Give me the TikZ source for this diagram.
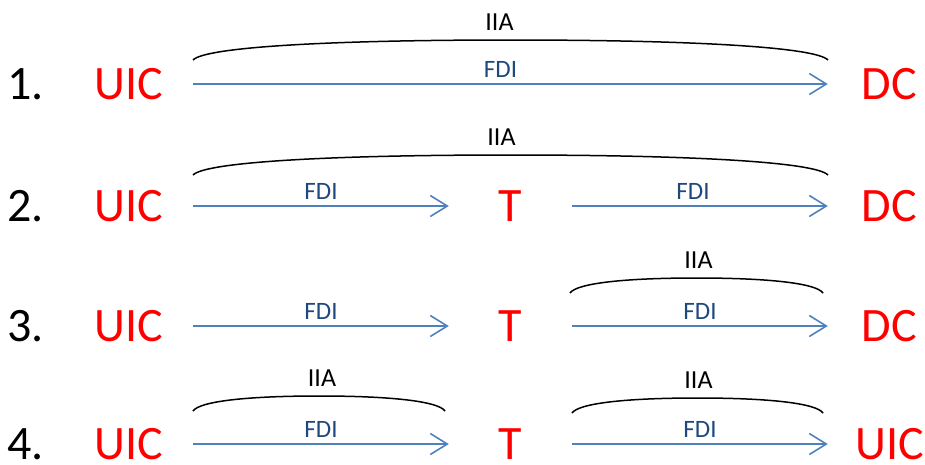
\documentclass[tikz,border=0pt]{standalone}
\usepackage{fontspec}
\setmainfont{Carlito}
\usetikzlibrary{arrows.meta,positioning}
\definecolor{arrowblue}{HTML}{4F81BD}
\definecolor{labelblue}{HTML}{1F497D}
\definecolor{entred}{HTML}{FF0000}
\tikzset{
  ent/.style={text=entred,inner sep=0,minimum width=123pt,font=\fontsize{48}{50}\selectfont},
  num/.style={anchor=west,inner sep=0,font=\fontsize{48}{50}\selectfont},
  fdi/.style={arrowblue,line width=1.6pt,-{Straight Barb[length=17pt,width=21pt]}},
  lbl/.style={above=6pt,inner sep=0,text=labelblue,font=\fontsize{25}{26}\selectfont},
  brace/.style={black,line width=1.5pt},
  iia/.style={above=9pt,inner sep=0,font=\fontsize{26}{28}\selectfont}
}
% IIA arc: left x, right x, end y, rise, name of top point
\newcommand{\iiaarc}[5]{%
  \draw[brace] (#1,#3) .. controls +({0.015*(#2-#1)+3},{-0.65*#4}) and +({-0.285*(#2-#1)},0) .. ({(#1+#2)/2},{#3-#4}) coordinate (#5)
    .. controls +({0.285*(#2-#1)},0) and +({-0.015*(#2-#1)-3},{-0.65*#4}) .. (#2,#3);}

\begin{document}
\begin{tikzpicture}[x=1pt,y=-1pt]
  \useasboundingbox (0,0) rectangle (925,464);
  % 1. UIC -> DC
  \node[num] (n1) at (7,84) {1.};
  \node[ent,minimum width=128pt] (u1) at (129,84) {UIC};
  \node[ent] (d1) at (889.5,84) {DC};
  \draw[fdi] (u1) -- node[lbl,xshift=-10pt] (f1) {FDI} (d1);
  \iiaarc{193}{828}{60}{20}{b1}
  \node[iia,xshift=-11pt] (i1) at (b1) {IIA};
  % 2. UIC -> T -> DC
  \node[num] (n2) at (7,206) {2.};
  \node[ent,minimum width=128pt] (u2) at (129,206) {UIC};
  \node[ent] (t2) at (510.5,206) {T};
  \node[ent] (d2) at (889.5,206) {DC};
  \draw[fdi] (u2) -- node[lbl] (f2a) {FDI} (t2);
  \draw[fdi] (t2) -- node[lbl,xshift=-7pt] (f2b) {FDI} (d2);
  \iiaarc{193}{828}{175}{20}{b2}
  \node[iia,xshift=-9pt] (i2) at (b2) {IIA};
  % 3. UIC -> T -> DC
  \node[num] (n3) at (7,326) {3.};
  \node[ent,minimum width=128pt] (u3) at (129,326) {UIC};
  \node[ent] (t3) at (510.5,326) {T};
  \node[ent] (d3) at (889.5,326) {DC};
  \draw[fdi] (u3) -- node[lbl] (f3a) {FDI} (t3);
  \draw[fdi] (t3) -- node[lbl] (f3b) {FDI} (d3);
  \iiaarc{570}{823}{293}{15}{b3}
  \node[iia,xshift=2pt] (i3) at (b3) {IIA};
  % 4. UIC -> T -> UIC
  \node[num] (n4) at (7,444) {4.};
  \node[ent,minimum width=128pt] (u4) at (129,444) {UIC};
  \node[ent] (t4) at (510.5,444) {T};
  \node[ent] (v4) at (889.5,444) {UIC};
  \draw[fdi] (u4) -- node[lbl] (f4a) {FDI} (t4);
  \draw[fdi] (t4) -- node[lbl] (f4b) {FDI} (v4);
  \iiaarc{193}{445}{411}{15}{b4}
  \node[iia,xshift=3pt] (i4) at (b4) {IIA};
  \iiaarc{572}{823}{413}{15}{b5}
  \node[iia,xshift=1pt] (i5) at (b5) {IIA};
\end{tikzpicture}
\end{document}
